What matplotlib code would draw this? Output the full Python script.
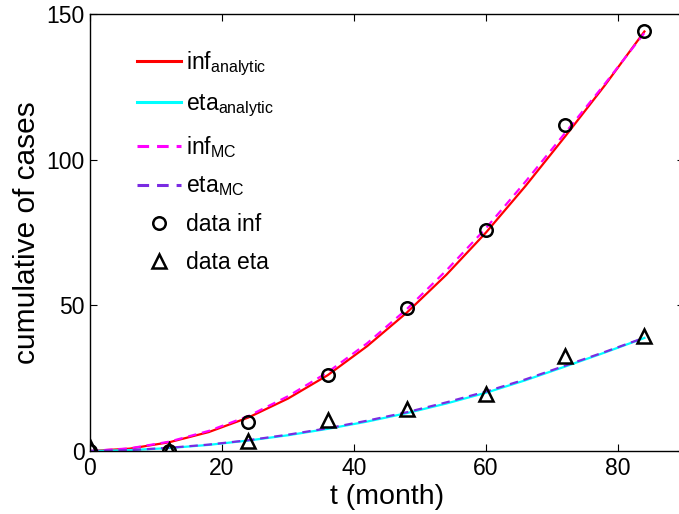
import matplotlib.pyplot as plt

plt.rcParams['font.family'] = ['Liberation Sans', 'DejaVu Sans']
plt.rcParams['mathtext.fontset'] = 'custom'
plt.rcParams['mathtext.rm'] = 'Liberation Sans'
plt.rcParams['mathtext.it'] = 'Liberation Sans'

# model curves (every 6 months)
t_curve = [0, 6, 12, 18, 24, 30, 36, 42, 48, 54, 60, 66, 72, 78, 84]
inf_analytic = [0, 0.8, 3, 6.5, 11.5, 18, 26, 36, 47.5, 60.5, 75, 91, 108, 125.5, 144]
eta_analytic = [0, 0.3, 1, 2.1, 3.6, 5.4, 7.6, 10.1, 13, 16.3, 20, 24.3, 29, 33.8, 38.8]
inf_mc = [0, 0.9, 3.2, 6.9, 12, 18.8, 27, 37, 48.7, 62, 76.5, 92.5, 109.2, 126, 143.5]
eta_mc = [0, 0.3, 1.1, 2.2, 3.7, 5.6, 7.8, 10.4, 13.3, 16.7, 20.4, 24.6, 29.3, 34, 38.9]

# observed data
t_data = [0, 12, 24, 36, 48, 60, 72, 84]
data_inf = [0, 0, 10, 26, 49, 76, 112, 144]
data_eta = [1.5, 0.3, 3.4, 10.5, 14.5, 19.5, 32.5, 39.5]

fig = plt.figure(figsize=(6.79, 5.14), dpi=100)
ax = fig.add_axes([90 / 679, 63 / 514, 594 / 679, 437 / 514])

dash = (0, (3.8, 2.6))
ax.plot(t_curve, inf_analytic, color='red', lw=1.6, label=r'inf$_{\mathrm{analytic}}$')
ax.plot(t_curve, eta_analytic, color='cyan', lw=1.6, label=r'eta$_{\mathrm{analytic}}$')
ax.plot(t_curve, inf_mc, color='magenta', lw=1.6, ls=dash, label=r'inf$_{\mathrm{MC}}$')
ax.plot(t_curve, eta_mc, color='#7a2be2', lw=1.6, ls=dash, label=r'eta$_{\mathrm{MC}}$')
ax.plot(t_data, data_inf, 'o', ms=9, mfc='none', mec='black', mew=1.8, label='data inf')
ax.plot(t_data, data_eta, '^', ms=10, mfc='none', mec='black', mew=1.8, label='data eta')

ax.set_xlim(0, 90)
ax.set_ylim(0, 150)
ax.set_xticks([0, 20, 40, 60, 80])
ax.set_yticks([0, 50, 100, 150])
ax.tick_params(direction='in', top=True, right=True, labelsize=16.5, length=5, pad=4)
for s in ax.spines.values():
    s.set_linewidth(1.0)
ax.set_xlabel('t (month)', fontsize=20.5, labelpad=3)
ax.set_ylabel('cumulative of cases', fontsize=21.5, labelpad=4)

leg = ax.legend(loc='upper left', bbox_to_anchor=(0.063, 0.94), frameon=False,
                fontsize=16.5, handlelength=1.95, handletextpad=0.2, labelspacing=0.64,
                borderaxespad=0)
for h in leg.get_lines()[:4]:
    h.set_linewidth(2.2)

fig.savefig('out.png', dpi=100)
